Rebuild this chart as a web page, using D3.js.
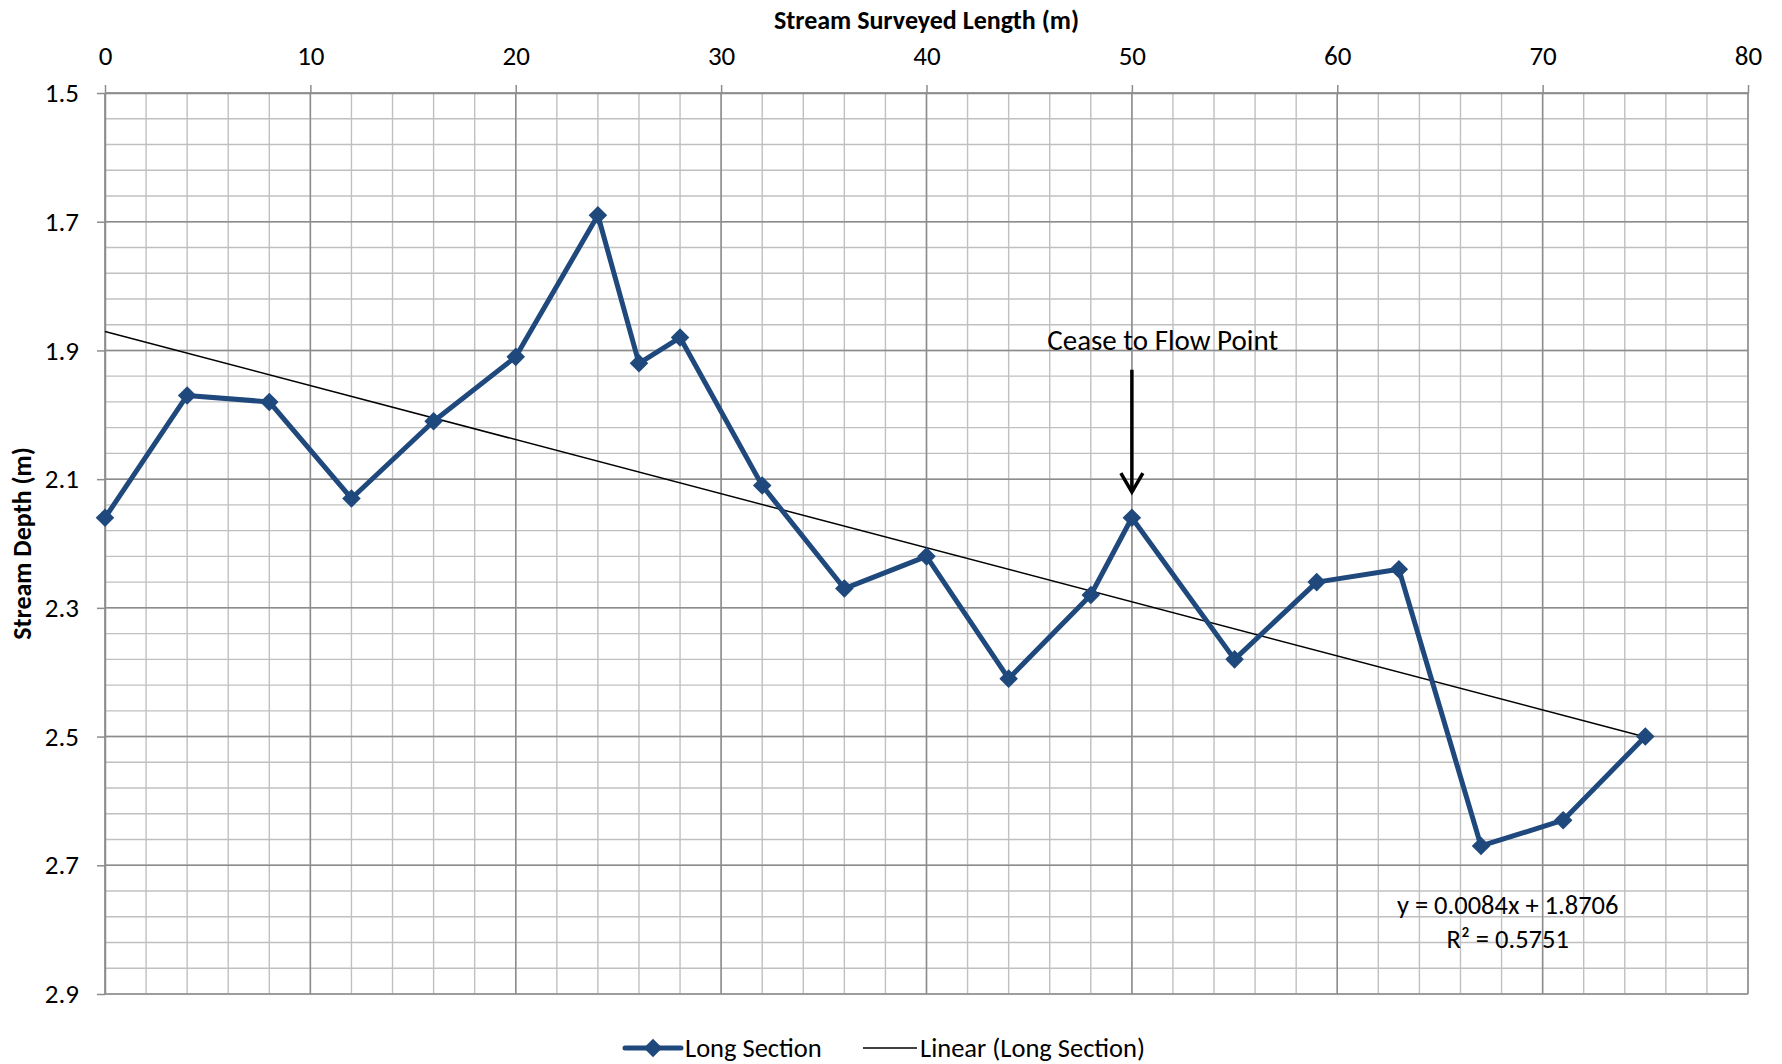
<!DOCTYPE html>
<html><head><meta charset="utf-8">
<script src="https://cdn.jsdelivr.net/npm/d3@7"></script>
<style>body{margin:0;background:#fff}svg{display:block}text{font-family:Carlito,Calibri,Lato,sans-serif}</style>
</head><body>
<script>
const lengths = [0,4,8,12,16,20,24,26,28,32,36,40,44,48,50,55,59,63,67,71,75];
const depths  = [2.16,1.97,1.98,2.13,2.01,1.91,1.69,1.92,1.88,2.11,2.27,2.22,2.41,2.28,2.16,2.38,2.26,2.24,2.67,2.63,2.50];
const xTicks = [0,10,20,30,40,50,60,70,80];
const yTicks = [1.5,1.7,1.9,2.1,2.3,2.5,2.7,2.9];
const yTickLabels = ["1.5","1.7","1.9","2.1","2.3","2.5","2.7","2.9"];
const trendSlope = 0.0084, trendIntercept = 1.8706;
const trendLabel = "y = 0.0084x + 1.8706";
const r2Label = "R² = 0.5751";
const xTitle = "Stream Surveyed Length (m)";
const yTitle = "Stream Depth (m)";
const seriesName = "Long Section";
const trendName = "Linear (Long Section)";
const annotation = "Cease to Flow Point";

const W=1782,H=1064;
const L=105,R=1748,T=93,B=994;
const svg=d3.select("body").append("svg").attr("width",W).attr("height",H);
const x=d3.scaleLinear().domain([0,80]).range([L,R]);
const y=d3.scaleLinear().domain([1.5,2.9]).range([T,B]);
const blue="#1f497d";

// minor grid
const g=svg.append("g");
g.selectAll(".mx").data(d3.range(0,81,2)).join("line")
 .attr("x1",d=>x(d)).attr("x2",d=>x(d)).attr("y1",T).attr("y2",B)
 .attr("stroke","#c0c0c0").attr("stroke-width",1.4);
g.selectAll(".my").data(d3.range(0,36).map(i=>1.5+i*0.04)).join("line")
 .attr("y1",d=>y(d)).attr("y2",d=>y(d)).attr("x1",L).attr("x2",R)
 .attr("stroke","#c0c0c0").attr("stroke-width",1.4);
// major grid
g.selectAll(".Mx").data(xTicks).join("line")
 .attr("x1",d=>x(d)).attr("x2",d=>x(d)).attr("y1",T).attr("y2",B)
 .attr("stroke","#8c8c8c").attr("stroke-width",1.5);
g.selectAll(".My").data(yTicks).join("line")
 .attr("y1",d=>y(d)).attr("y2",d=>y(d)).attr("x1",L).attr("x2",R)
 .attr("stroke","#8c8c8c").attr("stroke-width",1.5);

// axes
const ax=svg.append("g").attr("transform",`translate(0,${T})`)
 .call(d3.axisTop(x).tickValues(xTicks).tickFormat(d3.format("d")).tickSize(8).tickPadding(20).tickSizeOuter(0));
const ay=svg.append("g").attr("transform",`translate(${L},0)`)
 .call(d3.axisLeft(y).tickValues(yTicks).tickFormat((d,i)=>yTickLabels[i]).tickSize(8).tickPadding(18).tickSizeOuter(0));
[ax,ay].forEach(a=>{
  a.select(".domain").attr("stroke","#8c8c8c").attr("stroke-width",1.5);
  a.selectAll(".tick line").attr("stroke","#8c8c8c").attr("stroke-width",1.5);
  a.selectAll("text").attr("font-size",27).attr("fill","#000").style("font-family","Carlito,Calibri,Lato,sans-serif");
});

// titles
svg.append("text").attr("x",(L+R)/2).attr("y",29).attr("text-anchor","middle")
 .attr("font-size",26).attr("font-weight","bold").text(xTitle);
svg.append("text").attr("transform",`translate(31,${(T+B)/2}) rotate(-90)`).attr("text-anchor","middle")
 .attr("font-size",26).attr("font-weight","bold").text(yTitle);

// trend line
svg.append("line").attr("x1",x(0)).attr("y1",y(trendIntercept))
 .attr("x2",x(75)).attr("y2",y(trendIntercept+trendSlope*75))
 .attr("stroke","#000").attr("stroke-width",1.5);

// series
const line=d3.line().x((d,i)=>x(lengths[i])).y(d=>y(d));
svg.append("path").datum(depths).attr("d",line).attr("fill","none")
 .attr("stroke",blue).attr("stroke-width",5).attr("stroke-linejoin","round");
const diamond=d3.symbol().type(d3.symbolDiamond2).size(220);
svg.selectAll(".pt").data(depths).join("path")
 .attr("transform",(d,i)=>`translate(${x(lengths[i])},${y(d)})`)
 .attr("d",diamond).attr("fill",blue);

// annotation arrow
const ax0=x(50), yTop=y(1.93), yTip=y(2.12);
svg.append("line").attr("x1",ax0).attr("x2",ax0).attr("y1",yTop).attr("y2",yTip-2)
 .attr("stroke","#000").attr("stroke-width",3.5);
svg.append("path").attr("d",`M${ax0-11},${yTip-19}L${ax0},${yTip}L${ax0+11},${yTip-19}`)
 .attr("fill","none").attr("stroke","#000").attr("stroke-width",3.5);
svg.append("text").attr("x",x(51.5)).attr("y",y(1.9)).attr("text-anchor","middle")
 .attr("font-size",29).text(annotation);

// equation
svg.append("text").attr("x",x(68.3)).attr("y",y(2.776)).attr("text-anchor","middle").attr("font-size",26.5).text(trendLabel);
svg.append("text").attr("x",x(68.3)).attr("y",y(2.828)).attr("text-anchor","middle").attr("font-size",26.5).text(r2Label);

// legend
const ly=1048;
svg.append("line").attr("x1",625).attr("x2",681).attr("y1",ly).attr("y2",ly).attr("stroke",blue).attr("stroke-width",5).attr("stroke-linecap","round");
svg.append("path").attr("transform",`translate(653,${ly})`).attr("d",diamond).attr("fill",blue);
svg.append("text").attr("x",685).attr("y",ly+9).attr("font-size",26.5).text(seriesName);
svg.append("line").attr("x1",863).attr("x2",917).attr("y1",ly).attr("y2",ly).attr("stroke","#000").attr("stroke-width",1.5);
svg.append("text").attr("x",920).attr("y",ly+9).attr("font-size",26.5).text(trendName);
</script>
</body></html>
